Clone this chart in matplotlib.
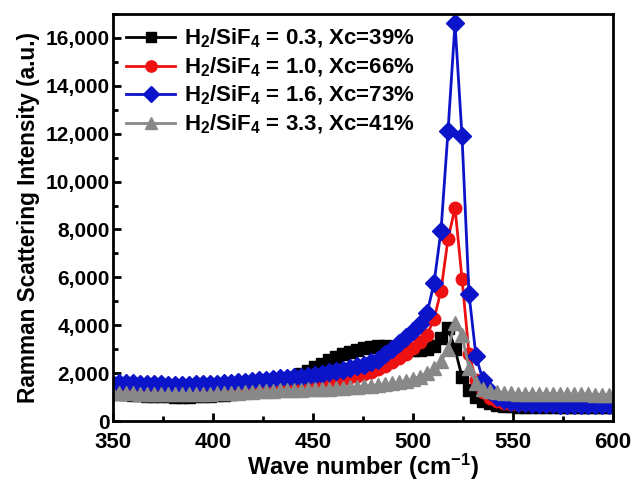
import numpy as np
import matplotlib
matplotlib.use("Agg")
import matplotlib.pyplot as plt
from matplotlib.ticker import MultipleLocator, FuncFormatter

plt.rcParams['font.family'] = ['Liberation Sans', 'DejaVu Sans']
plt.rcParams['font.weight'] = 'bold'
plt.rcParams['mathtext.fontset'] = 'custom'
plt.rcParams['mathtext.rm'] = 'Liberation Sans:bold'
plt.rcParams['mathtext.bf'] = 'Liberation Sans:bold'
plt.rcParams['mathtext.default'] = 'bf'

# wave number (cm^-1)
wave = [349.5, 353, 356.5, 360, 363.5, 367, 370.5, 374, 377.5, 381, 384.5, 388,
        391.5, 395, 398.5, 402, 405.5, 409, 412.5, 416, 419.5,
        423, 426.5, 430, 433.5, 437, 440.5, 444, 447.5, 451, 454.5, 458, 461.5,
        465, 468.5, 472, 475.5, 479, 482.5, 486, 489.5, 493, 496.5, 500, 503.5, 507,
        510.5, 514, 517.5, 521, 524.5, 528, 531.5, 535, 538.5, 542, 545.5, 549,
        552.5, 556, 559.5,
        563, 566.5, 570, 573.5, 577, 580.5, 584, 587.5, 591, 594.5, 598, 601.5]

int_03 = [1200, 1150, 1120, 1100, 1080, 1060, 1050, 1040, 1030, 1020, 1020, 1020,
          1030, 1040, 1060, 1080, 1100, 1130, 1170, 1220, 1280,
          1350, 1420, 1500, 1600, 1700, 1820, 1950, 2100, 2250, 2400, 2550, 2680,
          2800, 2900, 2980, 3050, 3100, 3120, 3120, 3100, 3060, 3020, 2980, 2960, 3000,
          3150, 3450, 3900, 3000, 1850, 1300, 1000, 850, 750, 680, 640, 610,
          600, 590, 585,
          580, 580, 575, 575, 570, 570, 570, 570, 570, 570, 570, 570]

int_10 = [1350, 1340, 1330, 1320, 1310, 1300, 1300, 1290, 1290, 1280, 1280, 1280,
          1290, 1290, 1300, 1300, 1310, 1310, 1320, 1330, 1340,
          1350, 1370, 1390, 1410, 1430, 1460, 1490, 1520, 1560, 1600, 1650, 1700,
          1760, 1830, 1900, 1980, 2070, 2180, 2300, 2450, 2620, 2820, 3050, 3300, 3600,
          4250, 5450, 7600, 8900, 5950, 2800, 1700, 1200, 950, 820, 760, 730,
          720, 710, 700,
          700, 690, 690, 690, 680, 680, 680, 680, 680, 680, 680, 680]

int_16 = [1600, 1600, 1580, 1570, 1560, 1550, 1540, 1530, 1520, 1510, 1510, 1520,
          1530, 1540, 1550, 1560, 1580, 1600, 1620, 1640, 1660,
          1700, 1720, 1750, 1780, 1800, 1830, 1860, 1900, 1940, 1980, 2030, 2080,
          2140, 2200, 2280, 2360, 2450, 2560, 2800, 3000, 3250, 3500, 3750, 4050, 4500,
          5750, 7950, 12100, 16600, 11900, 5300, 2700, 1700, 1250, 1000, 880, 800,
          760, 740, 720,
          710, 700, 700, 690, 690, 680, 680, 680, 670, 670, 670, 670]

int_33 = [1200, 1180, 1170, 1160, 1150, 1150, 1140, 1140, 1130, 1130, 1130, 1130,
          1140, 1140, 1150, 1160, 1170, 1180, 1190, 1200, 1220,
          1250, 1260, 1270, 1280, 1290, 1300, 1310, 1320, 1330, 1340, 1350, 1370,
          1390, 1410, 1430, 1450, 1470, 1500, 1530, 1570, 1620, 1680, 1750, 1860, 2000,
          2200, 2500, 3000, 4100, 3600, 2200, 1600, 1350, 1250, 1200, 1170, 1160,
          1150, 1150, 1140,
          1140, 1130, 1130, 1130, 1120, 1120, 1120, 1120, 1110, 1110, 1110, 1110]

labels = [r'H$_2$/SiF$_4$ = 0.3, Xc=39%',
          r'H$_2$/SiF$_4$ = 1.0, Xc=66%',
          r'H$_2$/SiF$_4$ = 1.6, Xc=73%',
          r'H$_2$/SiF$_4$ = 3.3, Xc=41%']
colors = ['black', '#ee1111', '#0b14c8', '#888888']
markers = ['s', 'o', 'D', '^']
msizes = [8.5, 9, 9, 9.5]

fig = plt.figure(figsize=(6.34, 4.96), dpi=100)
ax = fig.add_axes([0.178, 0.151, 0.789, 0.821])

series = [int_03, int_10, int_16, int_33]
for ys, c, m, ms, lab in zip(series, colors, markers, msizes, labels):
    ax.plot(wave, ys, color=c, marker=m, markersize=ms, linewidth=2,
            label=lab)

ax.set_xlim(350, 600)
ax.set_ylim(0, 17000)
ax.xaxis.set_major_locator(MultipleLocator(50))
ax.xaxis.set_minor_locator(MultipleLocator(25))
ax.yaxis.set_major_locator(MultipleLocator(2000))
ax.yaxis.set_minor_locator(MultipleLocator(1000))
ax.yaxis.set_major_formatter(FuncFormatter(lambda v, p: f'{int(v):,}'))
ax.tick_params(which='both', direction='in', width=2)
ax.tick_params(axis='y', labelsize=15, pad=2)
ax.tick_params(axis='x', labelsize=16, pad=8)
ax.tick_params(which='major', length=6)
ax.tick_params(which='minor', length=3.5)
for s in ax.spines.values():
    s.set_linewidth(2)

ax.set_xlabel(r'Wave number (cm$^{\mathbf{-1}}$)', fontsize=17, fontweight='bold',
              labelpad=-1)
ax.set_ylabel('Ramman Scattering Intensity (a.u.)', fontsize=16.3, fontweight='bold',
              labelpad=4)

ax.legend(loc='upper left', frameon=False, fontsize=16, handlelength=2.2,
          borderaxespad=0.2, labelspacing=0.24, handletextpad=0.4,
          markerscale=0.9)

fig.savefig('out.png', dpi=100)
